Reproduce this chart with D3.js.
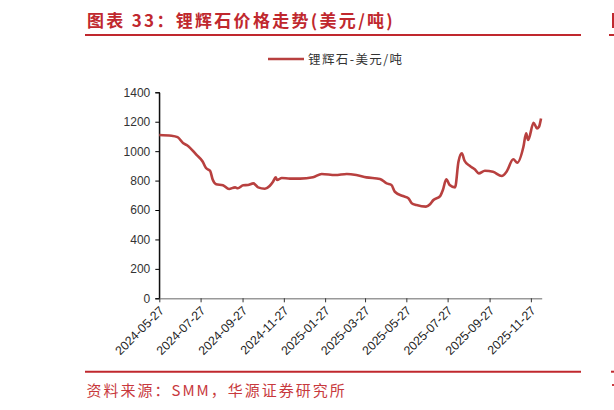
<!DOCTYPE html>
<html>
<head>
<meta charset="utf-8">
<script src="https://cdn.jsdelivr.net/npm/d3@7"></script>
<style>
  body { margin: 0; background: #fff; }
  svg { display: block; }
</style>
</head>
<body>
<svg id="chart" width="614" height="410"></svg>
<script>
// 锂辉石价格 (美元/吨)
const dates = [
  '2024-05-27','2024-06-14','2024-06-23','2024-07-01','2024-07-08','2024-07-21','2024-07-30',
  '2024-08-04','2024-08-10','2024-08-14','2024-08-19','2024-08-29','2024-09-07','2024-09-16',
  '2024-09-20','2024-09-28','2024-10-05','2024-10-13','2024-10-20','2024-10-30','2024-11-06',
  '2024-11-11','2024-11-15','2024-11-17','2024-11-24','2024-12-06','2024-12-21','2025-01-09',
  '2025-01-22','2025-02-11','2025-02-28','2025-03-14','2025-03-29','2025-04-18','2025-04-28',
  '2025-05-05','2025-05-10','2025-05-22','2025-05-30','2025-06-04','2025-06-11','2025-06-25',
  '2025-07-01','2025-07-06','2025-07-16','2025-07-20','2025-07-25','2025-07-30','2025-08-07',
  '2025-08-12','2025-08-17','2025-08-21','2025-08-29','2025-09-05','2025-09-11','2025-09-20',
  '2025-10-02','2025-10-15','2025-10-22','2025-11-01','2025-11-07','2025-11-16','2025-11-20',
  '2025-11-23','2025-12-01','2025-12-06','2025-12-09','2025-12-12'
];
const prices = [
  1110,1105,1095,1055,1037,975,930,
  885,867,805,775,768,743,754,
  748,768,770,781,754,745,763,
  792,822,804,818,813,813,822,
  845,838,845,838,822,811,781,
  770,724,695,680,646,634,623,
  639,668,695,736,809,770,754,
  928,985,935,899,877,849,867,
  860,831,860,945,922,1030,1121,
  1076,1193,1155,1166,1222
];
const tickDates = ['2024-05-27','2024-07-27','2024-09-27','2024-11-27','2025-01-27',
  '2025-03-27','2025-05-27','2025-07-27','2025-09-27','2025-11-27'];
const yTicks = [0,200,400,600,800,1000,1200,1400];
const seriesName = '锂辉石-美元/吨';
const title = '图表 33：锂辉石价格走势(美元/吨)';
const source = '资料来源：SMM，华源证券研究所';

const parse = d3.timeParse('%Y-%m-%d');
const data = dates.map((d, i) => ({date: parse(d), value: prices[i]}));

const svg = d3.select('#chart');
const red = '#c0282e';
const lineColor = '#b8403f';

const x = d3.scaleTime()
  .domain([parse('2024-05-27'), parse('2025-12-13')])
  .range([159.3, 541.7]);
const y = d3.scaleLinear().domain([0, 1400]).range([298.3, 92.3]);

// header
svg.append('text').attr('x', 87).attr('y', 26.5)
  .attr('fill', red).style('font', 'bold 17px "Noto Sans CJK SC"')
  .style('letter-spacing', '2.3px')
  .text(title);
svg.append('line').attr('x1', 85).attr('x2', 581).attr('y1', 35).attr('y2', 35)
  .attr('stroke', red).attr('stroke-width', 2);

// edge of the neighbouring column on the right
svg.append('rect').attr('x', 612).attr('y', 13).attr('width', 2).attr('height', 15).attr('fill', red);
svg.append('line').attr('x1', 609).attr('x2', 614).attr('y1', 35).attr('y2', 35)
  .attr('stroke', red).attr('stroke-width', 2);
svg.append('line').attr('x1', 611).attr('x2', 614).attr('y1', 371.7).attr('y2', 371.7)
  .attr('stroke', red).attr('stroke-width', 2);
svg.append('rect').attr('x', 612).attr('y', 384).attr('width', 2).attr('height', 2).attr('fill', '#c8393d');

// legend
svg.append('line').attr('x1', 268).attr('x2', 304).attr('y1', 59).attr('y2', 59)
  .attr('stroke', lineColor).attr('stroke-width', 2.6);
svg.append('text').attr('x', 308).attr('y', 63.5)
  .attr('fill', '#333').style('font', '12.5px "Noto Sans CJK SC"')
  .style('letter-spacing', '1.4px')
  .text(seriesName);

// y axis
const yAxis = svg.append('g').attr('transform', 'translate(159.3,0)')
  .call(d3.axisLeft(y).tickValues(yTicks).tickFormat(d3.format('d')).tickSize(4).tickPadding(5));
yAxis.select('.domain').attr('stroke', '#000');
yAxis.selectAll('.tick line').attr('stroke', '#000');
yAxis.selectAll('.tick text').attr('fill', '#333')
  .style('font', '12px "Liberation Sans", Arial, sans-serif');

// x axis
const xAxis = svg.append('g').attr('transform', 'translate(0,298.3)')
  .call(d3.axisBottom(x).tickValues(tickDates.map(parse))
    .tickFormat(d3.timeFormat('%Y-%m-%d')).tickSize(4).tickSizeOuter(0));
xAxis.select('.domain').attr('stroke', '#999').attr('stroke-width', 1.6);
xAxis.selectAll('.tick line').attr('stroke', '#333');
xAxis.selectAll('.tick text')
  .attr('fill', '#222')
  .style('font', '12.3px "Liberation Sans", Arial, sans-serif')
  .attr('text-anchor', 'end')
  .attr('y', 0).attr('dy', 0)
  .attr('transform', 'translate(5,13) rotate(-45)');

// y axis line drawn over the x domain start
svg.append('line').attr('x1', 159.3).attr('x2', 159.3).attr('y1', 92.3).attr('y2', 298.3)
  .attr('stroke', '#000');

// series
svg.append('path').datum(data)
  .attr('fill', 'none')
  .attr('stroke', lineColor)
  .attr('stroke-width', 2.6)
  .attr('stroke-linejoin', 'round')
  .attr('d', d3.line().x(d => x(d.date)).y(d => y(d.value)).curve(d3.curveMonotoneX));

// footer
svg.append('line').attr('x1', 85).attr('x2', 581).attr('y1', 371.7).attr('y2', 371.7)
  .attr('stroke', red).attr('stroke-width', 2);
svg.append('text').attr('x', 86.5).attr('y', 396)
  .attr('fill', '#c8393d').style('font', '15px "Noto Sans CJK SC"')
  .style('letter-spacing', '2px')
  .text(source);
</script>
</body>
</html>
